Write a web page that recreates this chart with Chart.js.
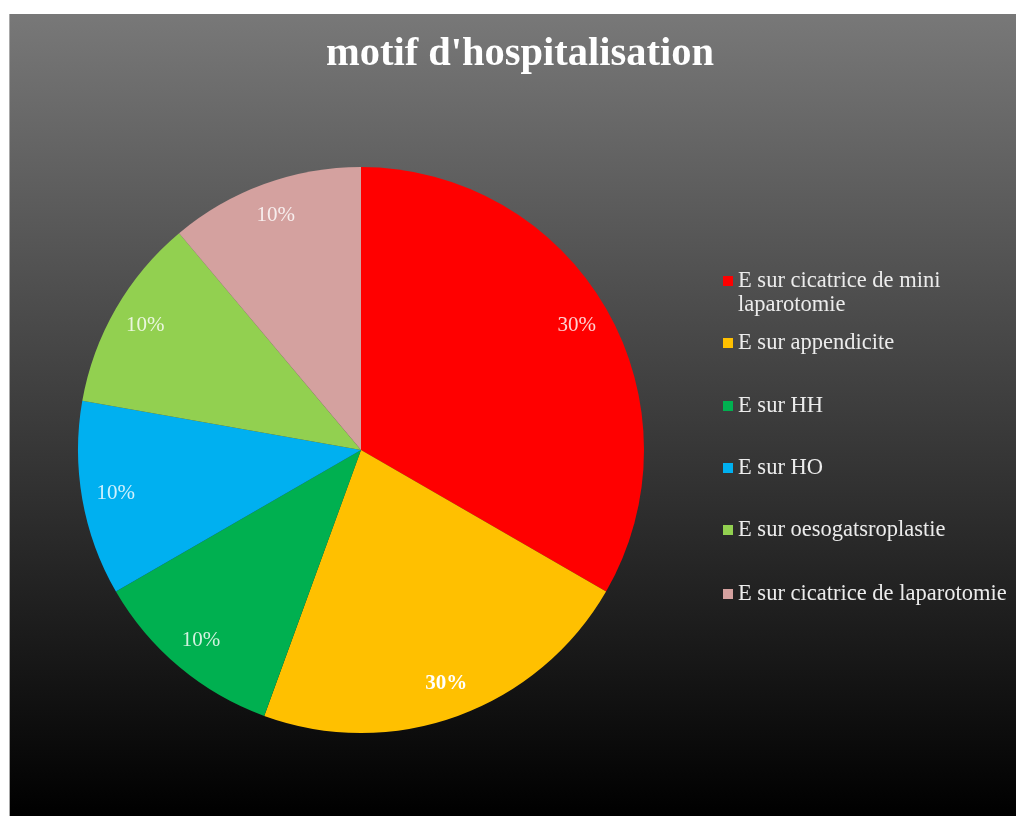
<!DOCTYPE html>
<html>
<head>
<meta charset="utf-8">
<script src="https://cdn.jsdelivr.net/npm/chart.js@4/dist/chart.umd.min.js"></script>
<style>
  html, body { margin: 0; padding: 0; background: #ffffff; }
  #wrap {
    position: absolute; left: 9px; top: 14px; width: 1007px; height: 802px;
    background: linear-gradient(to bottom, #787878 0%, #000000 100%);
    border-left: 1px solid #a8a8a8;
    box-sizing: border-box;
  }
  canvas { position: absolute; left: 0; top: 0; }
</style>
</head>
<body>
<div id="wrap"><canvas id="c" width="1006" height="802"></canvas></div>
<script>
const titleText = "motif d'hospitalisation";
const categories = [
  ["E sur cicatrice de mini", "laparotomie"],
  ["E sur appendicite"],
  ["E sur HH"],
  ["E sur HO"],
  ["E sur oesogatsroplastie"],
  ["E sur cicatrice de laparotomie"]
];
const values = [3, 2, 1, 1, 1, 1];
const valueLabels = ["30%", "30%", "10%", "10%", "10%", "10%"];
const colors = ["#FF0000", "#FFC000", "#00B050", "#00B0F0", "#92D050", "#D4A19F"];

const overlay = {
  id: 'overlay',
  afterDatasetsDraw(chart) {
    const ctx = chart.ctx;
    ctx.save();
    // title
    ctx.font = 'bold 40.5px "Liberation Serif", "DejaVu Serif", serif';
    ctx.fillStyle = '#ffffff';
    ctx.textAlign = 'center';
    ctx.textBaseline = 'alphabetic';
    ctx.fillText(titleText, 510, 51);

    // data labels
    const meta = chart.getDatasetMeta(0);
    meta.data.forEach((arc, i) => {
      const p = arc.getProps(['x', 'y', 'startAngle', 'endAngle', 'outerRadius'], true);
      const mid = (p.startAngle + p.endAngle) / 2;
      const r = p.outerRadius * 0.88;
      const x = p.x + Math.cos(mid) * r;
      const y = p.y + Math.sin(mid) * r;
      const bold = i === 1;
      ctx.font = (bold ? 'bold ' : '') + '21px "Liberation Serif", serif';
      ctx.fillStyle = bold ? '#ffffff' : 'rgba(255,255,255,0.82)';
      ctx.textAlign = 'center';
      ctx.textBaseline = 'middle';
      ctx.fillText(valueLabels[i], x, y);
    });

    // legend
    const rowY = [267, 329, 392, 454, 516, 580];
    ctx.font = '22.5px "Liberation Serif", serif';
    ctx.textAlign = 'left';
    ctx.textBaseline = 'middle';
    categories.forEach((lines, i) => {
      const y = rowY[i];
      ctx.fillStyle = colors[i];
      ctx.fillRect(713, y - 5, 10, 10);
      ctx.fillStyle = '#ececec';
      lines.forEach((t, k) => ctx.fillText(t, 728, y + k * 24));
    });
    ctx.restore();
  }
};

new Chart(document.getElementById('c'), {
  type: 'pie',
  data: {
    labels: categories.map(l => l.join(' ')),
    datasets: [{
      data: values,
      backgroundColor: colors,
      borderWidth: 0
    }]
  },
  options: {
    responsive: false,
    animation: false,
    layout: { padding: { left: 68, right: 372, top: 153, bottom: 83 } },
    plugins: {
      legend: { display: false },
      tooltip: { enabled: false },
      title: { display: false }
    }
  },
  plugins: [overlay]
});
</script>
</body>
</html>
